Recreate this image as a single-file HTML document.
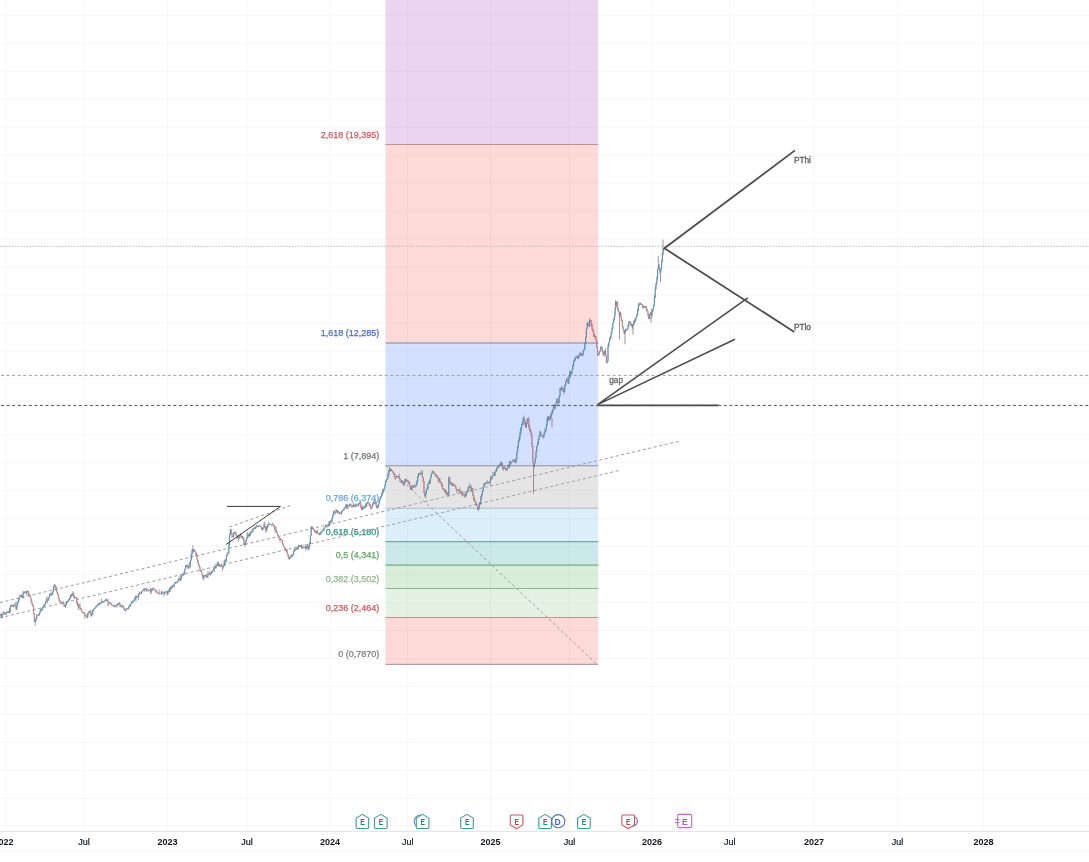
<!DOCTYPE html>
<html><head><meta charset="utf-8"><style>
html,body{margin:0;padding:0;background:#fff;width:1089px;height:862px;overflow:hidden;position:relative}
svg text{font-family:"Liberation Sans",sans-serif}
svg{will-change:transform}
</style></head><body>
<svg width="1089" height="862" viewBox="0 0 1089 862" style="position:absolute;left:0;top:0">
<rect x="0" y="0" width="1089" height="862" fill="#ffffff"/>
<path d="M0,826.40H1089M0,798.43H1089M0,770.46H1089M0,742.49H1089M0,714.52H1089M0,686.55H1089M0,658.58H1089M0,630.61H1089M0,602.64H1089M0,574.67H1089M0,546.70H1089M0,518.73H1089M0,490.76H1089M0,462.79H1089M0,434.82H1089M0,406.85H1089M0,378.88H1089M0,350.91H1089M0,322.94H1089M0,294.97H1089M0,267.00H1089M0,239.03H1089M0,211.06H1089M0,183.09H1089M0,155.12H1089M0,127.15H1089M0,99.18H1089M0,71.21H1089M0,43.24H1089M0,15.27H1089M5.90,0V831M84.10,0V831M167.50,0V831M247.00,0V831M330.10,0V831M407.70,0V831M490.50,0V831M569.40,0V831M652.00,0V831M729.70,0V831M813.90,0V831M897.60,0V831M983.60,0V831" stroke="#f6f6f7" stroke-width="1" fill="none"/>
<rect x="385.5" y="617.53" width="212.7" height="46.87" fill="#fdd9d7"/>
<rect x="385.5" y="588.53" width="212.7" height="29.00" fill="#e3f2e2"/>
<rect x="385.5" y="565.10" width="212.7" height="23.43" fill="#d8eed8"/>
<rect x="385.5" y="541.67" width="212.7" height="23.43" fill="#cae9e8"/>
<rect x="385.5" y="508.30" width="212.7" height="33.36" fill="#ddeefb"/>
<rect x="385.5" y="465.80" width="212.7" height="42.50" fill="#e5e5e6"/>
<rect x="385.5" y="343.07" width="212.7" height="122.73" fill="#d4e0ff"/>
<rect x="385.5" y="144.47" width="212.7" height="198.60" fill="#fdd9d7"/>
<rect x="385.5" y="0.00" width="212.7" height="144.47" fill="#ebd4f0"/>
<line x1="385.5" y1="664.40" x2="598.2" y2="664.40" stroke="#b59ea2" stroke-width="1.1"/>
<text x="379.2" y="657.4" fill="#7c7d84" stroke="#7c7d84" stroke-width="0.25" font-size="9" text-anchor="end">0 (0,7870)</text>
<line x1="385.5" y1="617.53" x2="598.2" y2="617.53" stroke="#c49090" stroke-width="1.1"/>
<text x="379.2" y="610.5" fill="#cc5a62" stroke="#cc5a62" stroke-width="0.25" font-size="9" text-anchor="end">0,236 (2,464)</text>
<line x1="385.5" y1="588.53" x2="598.2" y2="588.53" stroke="#8fb48f" stroke-width="1.1"/>
<text x="379.2" y="581.5" fill="#8cb88c" stroke="#8cb88c" stroke-width="0.25" font-size="9" text-anchor="end">0,382 (3,502)</text>
<line x1="385.5" y1="565.10" x2="598.2" y2="565.10" stroke="#7aa87c" stroke-width="1.1"/>
<text x="379.2" y="558.1" fill="#62a664" stroke="#62a664" stroke-width="0.25" font-size="9" text-anchor="end">0,5 (4,341)</text>
<line x1="385.5" y1="541.67" x2="598.2" y2="541.67" stroke="#6fa8a2" stroke-width="1.1"/>
<text x="379.2" y="534.7" fill="#2c9382" stroke="#2c9382" stroke-width="0.25" font-size="9" text-anchor="end">0,618 (5,180)</text>
<line x1="385.5" y1="508.30" x2="598.2" y2="508.30" stroke="#a8bccc" stroke-width="1.1"/>
<text x="379.2" y="501.3" fill="#68a8e0" stroke="#68a8e0" stroke-width="0.25" font-size="9" text-anchor="end">0,786 (6,374)</text>
<line x1="385.5" y1="465.80" x2="598.2" y2="465.80" stroke="#8e9098" stroke-width="1.1"/>
<text x="379.2" y="458.8" fill="#72757c" stroke="#72757c" stroke-width="0.25" font-size="9" text-anchor="end">1 (7,894)</text>
<line x1="385.5" y1="343.07" x2="598.2" y2="343.07" stroke="#7484b4" stroke-width="1.1"/>
<text x="379.2" y="336.1" fill="#4a6cc4" stroke="#4a6cc4" stroke-width="0.25" font-size="9" text-anchor="end">1,618 (12,285)</text>
<line x1="385.5" y1="144.47" x2="598.2" y2="144.47" stroke="#c0909a" stroke-width="1.1"/>
<text x="379.2" y="137.5" fill="#cc5a62" stroke="#cc5a62" stroke-width="0.25" font-size="9" text-anchor="end">2,618 (19,395)</text>
<path d="M385.5,658.58H598.2M385.5,630.61H598.2M385.5,602.64H598.2M385.5,574.67H598.2M385.5,546.70H598.2M385.5,518.73H598.2M385.5,490.76H598.2M385.5,462.79H598.2M385.5,434.82H598.2M385.5,406.85H598.2M385.5,378.88H598.2M385.5,350.91H598.2M385.5,322.94H598.2M385.5,294.97H598.2M385.5,267.00H598.2M385.5,239.03H598.2M385.5,211.06H598.2M385.5,183.09H598.2M385.5,155.12H598.2M385.5,127.15H598.2M385.5,99.18H598.2M385.5,71.21H598.2M385.5,43.24H598.2M385.5,15.27H598.2M407.70,0V664M490.50,0V664M569.40,0V664" stroke="#000" stroke-opacity="0.03" stroke-width="1" fill="none"/>
<line x1="386" y1="465.5" x2="597" y2="664.4" stroke="#9c9c9c" stroke-width="1" stroke-dasharray="3 2.6"/>
<line x1="0" y1="602.6" x2="680" y2="441" stroke="#9c9c9c" stroke-width="1" stroke-dasharray="3 2.6"/>
<line x1="0" y1="617.8" x2="620" y2="470.2" stroke="#9c9c9c" stroke-width="1" stroke-dasharray="3 2.6"/>
<line x1="229.4" y1="527" x2="292" y2="505" stroke="#9c9c9c" stroke-width="1" stroke-dasharray="3 2.6"/>
<line x1="0" y1="246.3" x2="1089" y2="246.3" stroke="#b8b8b8" stroke-width="1" stroke-dasharray="1.5 1.45"/>
<line x1="0" y1="375.4" x2="1089" y2="375.4" stroke="#a0a0a0" stroke-width="1" stroke-dasharray="3 2.56" stroke-dashoffset="-1"/>
<line x1="0" y1="405.4" x2="1089" y2="405.4" stroke="#505050" stroke-width="1" stroke-dasharray="3 2.56" stroke-dashoffset="-1"/>
<path d="M0.00,615.83V616.25M0.80,613.28V616.29M1.60,613.44V617.51M2.40,613.87V617.80M3.20,610.89V614.74M4.00,612.32V612.98M4.80,612.26V614.98M5.60,613.78V615.01M6.40,612.05V614.51M7.20,611.21V612.44M8.00,611.17V613.03M8.80,610.95V612.97M9.60,607.89V613.90M10.40,605.45V612.09M11.20,604.46V607.03M12.00,604.34V606.11M12.80,604.78V607.26M13.60,605.04V607.56M14.40,603.72V605.92M15.20,601.89V606.44M16.00,605.80V609.86M16.80,601.31V610.32M17.60,602.14V606.31M18.40,599.51V602.74M19.20,596.87V601.39M20.00,594.72V597.38M20.80,594.91V596.38M21.60,593.91V597.97M22.40,595.63V596.91M23.20,590.97V598.77M24.00,591.51V593.15M24.80,591.09V593.41M25.60,592.61V593.22M26.40,590.59V595.48M27.20,590.39V592.21M28.00,590.99V595.10M28.80,591.16V596.32M29.60,594.42V595.56M30.40,595.40V598.34M31.20,598.11V602.09M32.00,601.71V604.54M32.80,603.99V606.46M33.60,605.58V613.89M34.40,613.36V622.26M35.20,619.55V625.85M36.00,617.54V621.33M36.80,614.39V618.42M37.60,614.61V615.33M38.40,614.63V615.50M39.20,613.02V616.03M40.00,609.52V614.12M40.80,608.96V611.48M41.60,608.61V610.73M42.40,607.13V610.80M43.20,605.00V608.83M44.00,604.52V606.96M44.80,603.71V605.76M45.60,601.01V604.37M46.40,597.70V601.84M47.20,596.54V603.47M48.00,599.25V600.91M48.80,596.81V600.35M49.60,593.78V597.60M50.40,593.09V595.51M51.20,592.37V596.09M52.00,592.99V594.89M52.80,590.94V595.02M53.60,585.85V591.76M54.40,583.68V586.47M55.20,584.70V588.29M56.00,586.03V590.39M56.80,587.85V592.67M57.60,592.16V595.05M58.40,594.10V598.88M59.20,597.69V602.20M60.00,600.13V601.93M60.80,601.42V603.39M61.60,602.11V602.84M62.40,602.32V603.55M63.20,600.89V603.94M64.00,602.82V606.54M64.80,605.84V607.09M65.60,604.31V608.01M66.40,601.54V605.48M67.20,601.16V602.78M68.00,599.28V601.62M68.80,599.14V600.95M69.60,597.53V600.14M70.40,594.60V598.70M71.20,594.46V597.44M72.00,593.16V595.78M72.80,591.15V596.05M73.60,592.41V597.48M74.40,594.63V599.35M75.20,597.20V598.23M76.00,597.07V598.16M76.80,596.72V604.72M77.60,601.54V606.66M78.40,603.76V610.14M79.20,604.31V607.61M80.00,603.16V610.00M80.80,607.89V610.29M81.60,609.44V611.50M82.40,611.13V613.11M83.20,612.37V613.11M84.00,612.10V613.91M84.80,612.45V618.66M85.60,615.17V615.91M86.40,615.59V617.13M87.20,613.01V618.54M88.00,612.96V617.46M88.80,610.87V613.19M89.60,610.90V612.93M90.40,609.93V615.19M91.20,614.21V617.19M92.00,610.25V615.99M92.80,609.54V614.39M93.60,608.88V610.94M94.40,608.35V609.16M95.20,607.26V608.79M96.00,605.10V607.77M96.80,605.26V606.76M97.60,604.10V605.45M98.40,603.64V605.22M99.20,601.74V605.14M100.00,603.04V604.81M100.80,602.25V604.18M101.60,598.35V603.07M102.40,600.88V603.00M103.20,601.29V602.15M104.00,600.98V602.89M104.80,600.12V601.12M105.60,598.16V601.28M106.40,599.44V600.32M107.20,599.54V602.05M108.00,598.58V605.70M108.80,602.21V605.98M109.60,602.27V602.95M110.40,602.09V604.25M111.20,602.99V604.82M112.00,604.73V606.17M112.80,605.39V606.04M113.60,604.62V606.35M114.40,604.71V607.44M115.20,605.63V606.66M116.00,605.53V607.23M116.80,604.55V607.30M117.60,603.09V605.79M118.40,603.28V604.64M119.20,601.79V605.10M120.00,602.84V607.47M120.80,604.40V607.06M121.60,606.32V607.23M122.40,604.51V607.18M123.20,605.25V608.28M124.00,607.25V610.21M124.80,608.14V610.98M125.60,609.99V611.49M126.40,608.49V610.33M127.20,608.17V609.78M128.00,607.68V608.81M128.80,605.72V609.60M129.60,604.81V606.83M130.40,603.90V606.96M131.20,602.36V604.17M132.00,601.09V604.12M132.80,600.34V601.68M133.60,600.43V601.92M134.40,597.58V601.20M135.20,596.06V599.61M136.00,594.85V601.63M136.80,596.11V596.74M137.60,596.32V598.05M138.40,594.18V600.01M139.20,591.35V595.48M140.00,591.80V593.42M140.80,592.58V593.45M141.60,591.17V593.97M142.40,590.75V592.16M143.20,588.44V590.88M144.00,588.42V590.21M144.80,588.11V592.16M145.60,588.15V589.69M146.40,587.77V591.17M147.20,590.48V591.23M148.00,588.82V591.49M148.80,589.87V590.72M149.60,589.91V590.55M150.40,588.16V593.34M151.20,588.74V594.38M152.00,587.92V590.99M152.80,587.74V590.32M153.60,587.98V588.72M154.40,588.55V590.50M155.20,589.61V591.16M156.00,589.68V592.72M156.80,591.03V593.27M157.60,592.66V593.21M158.40,592.38V593.62M159.20,589.39V594.24M160.00,593.31V593.78M160.80,593.11V593.75M161.60,590.98V595.16M162.40,591.26V592.94M163.20,592.04V594.11M164.00,593.13V596.83M164.80,591.19V594.32M165.60,591.53V592.10M166.40,591.29V592.64M167.20,590.41V595.55M168.00,590.86V594.81M168.80,589.47V591.69M169.60,587.88V592.41M170.40,586.59V592.02M171.20,586.65V588.95M172.00,585.13V589.31M172.80,585.22V587.65M173.60,584.55V586.38M174.40,583.38V587.54M175.20,581.93V583.75M176.00,581.35V583.51M176.80,582.37V583.14M177.60,580.56V582.70M178.40,578.90V581.32M179.20,576.00V579.84M180.00,578.29V580.43M180.80,575.10V581.28M181.60,575.68V578.63M182.40,574.55V575.97M183.20,572.43V575.27M184.00,572.46V575.25M184.80,568.86V574.27M185.60,564.85V569.26M186.40,565.14V567.03M187.20,565.25V567.62M188.00,563.61V568.83M188.80,565.87V568.70M189.60,562.32V566.24M190.40,560.16V568.28M191.20,554.32V560.44M192.00,548.88V556.30M192.80,545.09V553.35M193.60,548.91V552.03M194.40,549.53V551.86M195.20,550.46V552.63M196.00,552.27V556.01M196.80,552.91V559.25M197.60,558.93V562.47M198.40,560.52V565.16M199.20,564.07V567.51M200.00,566.90V571.00M200.80,570.57V571.99M201.60,570.20V573.76M202.40,573.67V578.33M203.20,574.82V579.54M204.00,575.27V580.33M204.80,574.92V576.69M205.60,574.90V576.15M206.40,573.91V578.07M207.20,575.69V577.41M208.00,570.78V578.48M208.80,573.35V574.23M209.60,571.36V574.48M210.40,572.43V575.85M211.20,571.36V573.99M212.00,570.71V573.58M212.80,569.80V572.37M213.60,568.50V570.03M214.40,567.45V572.09M215.20,563.84V568.39M216.00,566.15V568.73M216.80,563.82V566.48M217.60,562.19V565.36M218.40,561.37V565.99M219.20,563.35V566.20M220.00,565.47V567.20M220.80,564.79V566.24M221.60,563.10V566.89M222.40,565.66V571.24M223.20,565.93V568.72M224.00,560.26V566.26M224.80,559.71V565.91M225.60,559.28V561.56M226.40,555.52V562.56M227.20,551.73V556.12M228.00,552.79V554.39M228.80,542.71V553.43M229.60,533.65V545.55M230.40,529.39V534.72M231.20,528.70V533.83M232.00,532.87V537.42M232.80,536.36V537.40M233.60,532.19V537.26M234.40,532.10V534.07M235.20,531.28V533.66M236.00,532.50V535.70M236.80,534.90V539.07M237.60,535.57V537.81M238.40,535.61V541.80M239.20,536.19V538.97M240.00,534.60V538.47M240.80,533.06V536.33M241.60,535.31V537.74M242.40,535.98V538.50M243.20,536.61V539.76M244.00,538.26V545.08M244.80,542.96V547.27M245.60,540.62V545.09M246.40,538.39V541.35M247.20,532.43V539.18M248.00,532.48V536.21M248.80,533.95V537.71M249.60,533.00V536.37M250.40,531.35V535.98M251.20,531.19V533.49M252.00,530.41V531.53M252.80,528.23V532.89M253.60,527.77V530.67M254.40,526.49V528.62M255.20,527.19V529.02M256.00,525.73V528.70M256.80,524.78V526.75M257.60,525.72V526.97M258.40,525.86V527.40M259.20,524.98V526.28M260.00,525.37V525.66M260.80,525.38V527.48M261.60,526.92V530.18M262.40,527.72V530.62M263.20,527.33V529.54M264.00,522.64V527.51M264.80,521.35V528.65M265.60,527.27V532.79M266.40,525.96V531.41M267.20,525.14V531.19M268.00,523.89V527.81M268.80,521.61V524.57M269.60,523.51V524.75M270.40,523.91V524.81M271.20,524.08V524.57M272.00,524.10V526.91M272.80,522.23V524.86M273.60,524.59V526.08M274.40,525.00V529.34M275.20,526.71V532.18M276.00,526.26V532.53M276.80,530.20V533.34M277.60,532.29V535.89M278.40,534.96V537.37M279.20,537.15V540.19M280.00,537.73V542.62M280.80,537.91V540.05M281.60,539.68V540.42M282.40,539.77V543.68M283.20,542.90V545.90M284.00,545.65V547.50M284.80,547.40V549.15M285.60,547.97V550.73M286.40,549.05V552.12M287.20,549.06V553.98M288.00,553.64V557.13M288.80,554.85V559.38M289.60,557.41V559.85M290.40,556.23V558.35M291.20,553.82V557.81M292.00,554.19V556.35M292.80,554.39V556.54M293.60,550.32V554.87M294.40,547.88V551.82M295.20,548.66V551.06M296.00,548.00V549.89M296.80,548.09V549.76M297.60,546.69V549.54M298.40,544.47V549.29M299.20,544.81V546.69M300.00,545.20V546.27M300.80,544.93V547.40M301.60,544.48V549.00M302.40,546.81V548.40M303.20,546.87V548.00M304.00,544.18V547.94M304.80,547.18V548.33M305.60,545.99V550.66M306.40,546.07V549.12M307.20,545.18V548.57M308.00,544.36V550.05M308.80,546.61V550.71M309.60,541.84V547.70M310.40,535.03V543.93M311.20,525.97V535.86M312.00,526.70V528.84M312.80,526.43V529.21M313.60,528.80V529.73M314.40,528.79V532.44M315.20,531.30V532.79M316.00,529.83V533.53M316.80,531.30V533.93M317.60,529.51V533.66M318.40,533.45V534.05M319.20,532.51V535.38M320.00,532.74V534.78M320.80,531.69V534.91M321.60,531.44V532.46M322.40,530.49V532.26M323.20,529.01V531.10M324.00,527.42V531.14M324.80,526.86V528.53M325.60,524.37V527.27M326.40,524.74V525.93M327.20,525.35V527.78M328.00,526.12V526.44M328.80,521.30V526.12M329.60,521.56V526.17M330.40,520.26V522.55M331.20,520.61V523.75M332.00,517.81V522.24M332.80,514.51V518.94M333.60,510.32V515.69M334.40,510.83V513.09M335.20,512.01V514.68M336.00,508.59V512.49M336.80,510.04V512.65M337.60,509.88V513.64M338.40,511.14V513.20M339.20,511.26V514.28M340.00,512.74V513.49M340.80,512.12V514.37M341.60,510.78V514.48M342.40,509.94V511.86M343.20,509.24V510.25M344.00,507.56V511.16M344.80,507.18V508.90M345.60,504.80V507.49M346.40,504.14V508.79M347.20,504.23V508.75M348.00,505.37V509.70M348.80,504.80V506.74M349.60,503.48V506.33M350.40,503.95V505.00M351.20,503.56V507.59M352.00,505.62V507.38M352.80,504.68V507.28M353.60,503.36V506.69M354.40,504.82V506.67M355.20,503.66V507.98M356.00,503.73V506.59M356.80,503.94V506.06M357.60,504.63V505.69M358.40,502.98V506.72M359.20,502.81V504.84M360.00,502.19V503.96M360.80,501.09V507.96M361.60,506.42V510.22M362.40,505.15V509.81M363.20,506.94V509.83M364.00,506.43V507.74M364.80,505.65V508.78M365.60,503.52V507.94M366.40,502.82V507.09M367.20,501.52V503.75M368.00,502.03V506.31M368.80,502.10V503.18M369.60,502.88V505.80M370.40,504.24V508.58M371.20,507.96V509.48M372.00,504.74V508.48M372.80,502.89V505.63M373.60,500.80V504.83M374.40,501.58V503.81M375.20,500.06V503.46M376.00,501.51V506.44M376.80,504.60V508.84M377.60,505.52V508.51M378.40,504.23V507.56M379.20,499.90V504.69M380.00,497.07V500.69M380.80,496.19V498.81M381.60,493.07V497.48M382.40,489.35V495.71M383.20,488.52V493.86M384.00,488.63V491.71M384.80,484.45V488.78M385.60,480.78V484.72M386.40,479.38V481.98M387.20,478.08V479.67M388.00,473.08V478.63M388.80,469.83V475.86M389.60,466.77V472.07M390.40,468.60V470.92M391.20,468.64V471.07M392.00,469.82V471.54M392.80,471.13V473.03M393.60,471.86V474.86M394.40,474.10V477.62M395.20,476.92V479.75M396.00,476.06V479.09M396.80,475.78V477.30M397.60,475.87V477.11M398.40,475.91V476.90M399.20,473.64V478.79M400.00,477.78V481.84M400.80,481.22V482.69M401.60,480.50V483.33M402.40,480.29V482.74M403.20,481.86V485.24M404.00,482.59V486.31M404.80,479.16V483.78M405.60,479.04V481.38M406.40,478.37V481.86M407.20,480.10V481.23M408.00,480.00V483.19M408.80,480.66V484.20M409.60,482.21V485.93M410.40,485.42V489.55M411.20,486.29V490.09M412.00,486.37V489.55M412.80,484.67V488.04M413.60,485.52V487.35M414.40,485.07V486.55M415.20,486.29V487.80M416.00,483.93V486.73M416.80,480.44V485.63M417.60,476.17V482.32M418.40,473.01V477.42M419.20,473.46V474.82M420.00,472.91V475.56M420.80,470.68V473.56M421.60,472.50V474.46M422.40,470.09V477.86M423.20,477.18V482.30M424.00,481.22V493.13M424.80,492.08V496.56M425.60,492.73V498.28M426.40,489.56V493.95M427.20,487.28V489.76M428.00,482.96V489.60M428.80,481.80V484.37M429.60,479.74V483.53M430.40,477.65V483.85M431.20,474.09V477.93M432.00,471.07V474.17M432.80,470.39V472.76M433.60,470.97V473.15M434.40,472.33V473.99M435.20,473.33V476.39M436.00,474.02V476.65M436.80,475.31V477.87M437.60,475.10V478.86M438.40,478.05V482.44M439.20,477.57V481.68M440.00,477.91V483.40M440.80,481.47V483.39M441.60,482.46V486.65M442.40,483.57V489.46M443.20,487.98V489.28M444.00,488.21V491.12M444.80,489.56V492.67M445.60,489.24V493.70M446.40,491.23V495.32M447.20,491.63V495.06M448.00,493.24V496.12M448.80,476.40V496.38M449.60,476.81V482.50M450.40,481.27V484.14M451.20,482.46V485.19M452.00,482.50V485.97M452.80,483.20V486.33M453.60,483.62V485.69M454.40,484.92V485.82M455.20,484.54V487.22M456.00,486.35V489.64M456.80,488.95V493.22M457.60,489.12V490.36M458.40,489.31V491.42M459.20,489.94V491.30M460.00,487.28V493.47M460.80,490.91V492.46M461.60,491.69V495.41M462.40,491.24V496.66M463.20,493.65V494.68M464.00,494.40V495.76M464.80,493.87V497.53M465.60,493.31V497.04M466.40,491.94V495.59M467.20,490.53V493.14M468.00,486.29V491.79M468.80,486.74V489.26M469.60,483.28V488.08M470.40,486.73V488.24M471.20,484.88V490.92M472.00,487.90V492.83M472.80,487.92V495.93M473.60,494.61V500.28M474.40,497.43V501.09M475.20,500.19V502.91M476.00,502.43V504.61M476.80,503.77V506.04M477.60,505.89V509.89M478.40,507.51V511.11M479.20,502.15V509.36M480.00,502.81V505.13M480.80,495.80V504.61M481.60,494.22V498.55M482.40,490.57V495.65M483.20,486.44V491.21M484.00,482.99V486.80M484.80,483.06V484.19M485.60,482.11V484.98M486.40,482.23V483.13M487.20,479.94V482.63M488.00,481.99V484.70M488.80,481.81V483.25M489.60,481.34V482.22M490.40,476.11V485.60M491.20,477.87V480.42M492.00,475.78V479.13M492.80,471.79V475.85M493.60,474.87V475.91M494.40,471.93V476.45M495.20,471.37V475.73M496.00,469.38V472.02M496.80,467.00V471.26M497.60,466.73V468.40M498.40,465.90V467.09M499.20,464.46V467.62M500.00,463.97V465.52M500.80,461.07V465.23M501.60,462.21V466.02M502.40,462.87V468.83M503.20,467.01V470.95M504.00,466.44V469.06M504.80,466.49V468.70M505.60,467.68V470.44M506.40,468.96V470.21M507.20,468.19V470.81M508.00,464.79V468.65M508.80,464.49V467.85M509.60,460.60V467.70M510.40,461.00V463.14M511.20,461.63V464.73M512.00,461.46V461.75M512.80,459.50V461.68M513.60,459.26V461.22M514.40,459.51V461.98M515.20,460.11V462.93M516.00,457.94V462.87M516.80,451.51V459.71M517.60,445.85V452.59M518.40,440.33V447.74M519.20,436.41V442.37M520.00,431.11V439.67M520.80,427.40V434.34M521.60,424.09V430.44M522.40,421.50V424.79M523.20,417.21V425.45M524.00,415.53V420.93M524.80,419.36V424.82M525.60,421.71V427.57M526.40,422.86V427.72M527.20,418.38V424.27M528.00,418.39V418.58M528.80,417.06V428.65M529.60,424.67V430.99M530.40,429.02V432.38M531.20,430.43V436.23M532.00,433.62V447.06M532.80,445.52V463.33M533.60,462.52V467.07M534.40,462.98V467.55M535.20,457.49V463.38M536.00,450.85V458.28M536.80,445.76V451.85M537.60,442.38V446.14M538.40,438.56V444.33M539.20,435.11V440.21M540.00,430.78V436.43M540.80,431.04V436.07M541.60,435.23V435.73M542.40,435.05V437.37M543.20,436.19V438.75M544.00,432.69V437.58M544.80,428.14V433.74M545.60,430.15V432.14M546.40,424.18V430.36M547.20,417.70V425.90M548.00,415.98V421.11M548.80,416.06V420.28M549.60,417.65V420.77M550.40,415.15V419.32M551.20,412.76V417.98M552.00,410.31V415.10M552.80,409.24V413.53M553.60,405.74V410.15M554.40,404.08V408.40M555.20,404.65V409.49M556.00,402.36V406.57M556.80,398.21V403.10M557.60,398.63V403.25M558.40,401.36V404.52M559.20,395.44V402.93M560.00,388.30V396.74M560.80,387.92V390.71M561.60,385.81V389.64M562.40,387.27V390.33M563.20,389.82V391.97M564.00,387.68V394.21M564.80,384.51V392.30M565.60,381.17V386.25M566.40,379.08V382.64M567.20,376.82V380.87M568.00,379.76V383.74M568.80,376.29V384.09M569.60,370.74V377.63M570.40,371.49V377.74M571.20,371.42V373.89M572.00,369.37V375.55M572.80,364.55V369.82M573.60,360.41V366.75M574.40,358.20V361.96M575.20,357.66V360.82M576.00,356.00V358.15M576.80,355.35V357.42M577.60,356.12V358.71M578.40,355.49V359.01M579.20,354.42V357.21M580.00,352.26V355.41M580.80,352.43V355.46M581.60,353.80V356.29M582.40,353.52V356.08M583.20,350.45V355.57M584.00,349.22V350.77M584.80,342.57V350.17M585.60,336.89V344.14M586.40,328.43V338.08M587.20,322.90V329.06M588.00,320.96V325.82M588.80,324.50V326.68M589.60,318.16V327.03M590.40,319.56V321.02M591.20,320.04V326.20M592.00,323.45V330.61M592.80,328.22V331.76M593.60,330.31V336.86M594.40,333.73V336.86M595.20,335.38V339.27M596.00,335.98V340.76M596.80,340.11V347.68M597.60,347.19V355.86M598.40,354.05V355.56M599.20,351.66V354.85M600.00,350.27V351.97M600.80,346.34V350.91M601.60,345.66V348.88M602.40,347.41V352.38M603.20,350.67V355.29M604.00,351.82V356.63M604.80,350.35V354.61M605.60,347.88V356.21M606.40,355.37V362.71M607.20,360.76V363.59M608.00,344.22V361.68M608.80,341.95V347.13M609.60,337.43V342.32M610.40,336.19V339.57M611.20,332.31V337.86M612.00,327.05V333.19M612.80,322.95V329.10M613.60,318.91V323.23M614.40,315.09V320.51M615.20,307.03V315.83M616.00,301.75V308.23M616.80,301.40V305.43M617.60,301.34V310.28M618.40,308.22V311.94M619.20,310.93V314.99M620.00,312.26V315.68M620.80,311.54V317.82M621.60,317.24V321.28M622.40,319.98V327.15M623.20,325.99V330.24M624.00,329.76V333.73M624.80,330.56V334.21M625.60,328.06V331.65M626.40,329.44V330.72M627.20,328.80V330.21M628.00,324.17V329.49M628.80,320.96V326.36M629.60,321.30V322.80M630.40,321.34V325.39M631.20,323.09V326.16M632.00,323.85V327.96M632.80,324.59V329.00M633.60,320.68V325.74M634.40,319.50V323.96M635.20,318.50V322.17M636.00,316.63V320.92M636.80,313.68V317.31M637.60,308.69V315.24M638.40,302.72V311.08M639.20,304.35V305.91M640.00,302.49V304.81M640.80,302.83V305.06M641.60,303.71V304.97M642.40,304.19V307.99M643.20,305.19V308.79M644.00,305.90V307.21M644.80,305.93V308.29M645.60,306.02V307.96M646.40,305.83V310.60M647.20,308.69V311.54M648.00,311.08V316.36M648.80,314.98V319.24M649.60,313.78V319.28M650.40,312.63V314.20M651.20,308.80V315.70M652.00,310.35V317.98M652.80,308.71V312.09M653.60,304.82V309.52M654.40,295.12V305.94M655.20,286.66V298.34M656.00,282.92V289.26M656.80,276.79V284.82M657.60,268.89V279.05M658.40,263.23V269.24M659.20,263.99V270.00M660.00,268.59V273.87M660.80,268.53V273.02M661.60,259.53V269.19M662.40,252.52V262.03M663.20,248.77V255.39M664.00,247.91V250.49" stroke="#434752" stroke-width="0.65" fill="none" stroke-opacity="0.75"/>
<path d="M0.00,615.90V616.70M2.40,614.33V615.13M4.80,612.44V614.20M5.60,614.20V615.00M8.00,611.72V612.71M12.00,604.95V606.08M12.80,606.08V606.88M15.20,604.50V605.86M16.00,605.86V608.77M20.80,594.98V595.85M21.60,595.85V596.65M24.80,591.69V592.61M25.60,592.61V593.41M28.00,591.04V593.03M28.80,593.03V594.88M29.60,594.88V595.68M30.40,595.46V598.27M31.20,598.27V601.71M32.00,601.71V604.40M32.80,604.40V606.44M33.60,606.44V613.75M34.40,613.75V621.85M37.60,614.76V615.56M38.40,615.31V616.11M47.20,600.52V601.32M51.20,594.54V595.34M55.20,584.84V586.17M56.00,586.17V588.82M56.80,588.82V592.28M57.60,592.28V595.04M58.40,595.04V598.20M59.20,598.20V600.35M60.00,600.35V601.67M60.80,601.67V602.60M61.60,602.60V603.40M62.40,602.71V603.51M63.20,603.00V603.80M64.00,603.44V605.86M64.80,605.86V606.66M72.80,593.70V594.97M73.60,594.97V597.21M74.40,597.21V598.01M76.00,597.32V598.12M76.80,598.09V602.67M77.60,602.67V605.69M78.40,605.69V607.05M79.20,607.05V607.85M80.00,607.16V608.40M80.80,608.40V609.63M81.60,609.63V611.15M82.40,611.15V612.38M83.20,612.38V613.18M84.00,612.74V613.85M84.80,613.85V615.45M85.60,615.45V616.25M86.40,615.87V617.00M89.60,611.95V612.75M90.40,612.43V614.29M91.20,614.29V615.44M98.40,604.36V605.16M102.40,601.98V602.78M107.20,599.69V601.52M108.00,601.52V602.46M108.80,602.46V603.26M110.40,602.66V603.62M111.20,603.62V604.81M112.00,604.81V605.71M113.60,605.41V606.21M114.40,605.67V606.47M119.20,603.41V604.21M120.00,603.63V605.46M120.80,605.46V606.83M123.20,606.14V607.25M124.00,607.25V608.77M124.80,608.77V610.29M136.80,596.39V597.19M137.60,596.53V597.33M140.00,592.89V593.69M140.80,593.18V593.98M146.40,588.57V590.77M147.20,590.77V591.57M150.40,590.10V591.84M153.60,588.28V589.08M154.40,588.67V589.92M155.20,589.92V590.72M156.00,589.95V591.76M156.80,591.76V592.82M157.60,592.82V593.62M158.40,593.00V593.80M159.20,593.39V594.19M162.40,591.74V592.54M163.20,592.46V593.74M166.40,591.75V592.55M167.20,592.11V593.69M170.40,588.33V589.13M172.80,586.16V586.96M176.00,582.26V583.06M176.80,582.43V583.23M180.00,578.87V580.19M187.20,565.48V566.34M188.00,566.34V568.21M193.60,549.09V549.89M194.40,549.56V550.88M195.20,550.88V552.27M196.00,552.27V555.71M196.80,555.71V559.14M197.60,559.14V562.08M198.40,562.08V564.65M199.20,564.65V567.09M200.00,567.09V570.59M200.80,570.59V571.51M201.60,571.51V573.72M202.40,573.72V576.06M203.20,576.06V577.48M205.60,575.19V576.15M206.40,576.15V577.17M208.80,573.61V574.41M209.60,573.73V574.53M215.20,567.80V568.60M218.40,563.06V565.00M219.20,565.00V565.89M220.00,565.89V566.69M221.60,565.04V566.12M222.40,566.12V567.24M231.20,529.53V532.88M232.00,532.88V537.06M235.20,532.19V533.57M236.00,533.57V535.23M236.80,535.23V536.32M237.60,536.32V537.41M238.40,537.41V538.21M240.80,534.61V535.86M241.60,535.86V537.58M243.20,536.70V538.89M244.00,538.89V544.94M248.80,534.83V536.14M257.60,525.74V526.54M260.80,525.47V526.95M261.60,526.95V529.27M264.80,525.35V527.46M265.60,527.46V529.18M269.60,523.65V524.45M270.40,524.12V524.92M272.80,524.26V525.06M273.60,524.70V525.50M274.40,525.40V527.49M275.20,527.49V530.26M276.00,530.26V531.63M276.80,531.63V533.06M277.60,533.06V535.48M278.40,535.48V537.19M279.20,537.19V538.65M280.00,538.65V539.45M280.80,538.89V539.71M281.60,539.71V540.51M282.40,540.28V543.03M283.20,543.03V545.67M284.00,545.67V547.50M284.80,547.50V548.76M285.60,548.76V549.93M286.40,549.93V551.54M287.20,551.54V553.73M288.00,553.73V556.22M288.80,556.22V558.92M296.00,549.51V550.31M300.80,545.30V546.16M301.60,546.16V547.89M303.20,547.53V548.33M304.80,547.20V548.06M308.00,545.42V549.06M312.00,526.84V528.81M312.80,528.81V529.61M313.60,528.83V529.69M314.40,529.69V531.37M315.20,531.37V532.17M316.80,531.37V532.17M317.60,532.11V533.56M318.40,533.56V534.36M319.20,534.02V534.82M321.60,531.79V532.59M327.20,525.44V526.24M331.20,520.88V521.68M334.40,511.72V512.69M337.60,510.31V511.70M338.40,511.70V512.52M339.20,512.52V513.34M340.80,513.10V513.90M347.20,504.33V505.80M348.00,505.80V506.60M348.80,505.99V506.79M350.40,504.39V505.19M351.20,504.97V506.52M352.00,506.52V507.32M353.60,505.51V506.31M356.00,504.81V505.61M356.80,504.86V505.66M357.60,505.52V506.32M360.00,503.07V503.87M360.80,503.49V507.78M361.60,507.78V509.78M364.00,507.09V507.89M368.80,502.15V502.95M369.60,502.89V505.32M370.40,505.32V508.19M371.20,508.19V508.99M374.40,502.15V503.06M376.00,503.05V504.91M376.80,504.91V508.12M390.40,468.79V469.86M391.20,469.86V470.66M392.00,470.55V471.35M392.80,471.26V472.42M393.60,472.42V474.72M394.40,474.72V476.92M395.20,476.92V478.10M398.40,475.94V476.74M399.20,476.05V478.43M400.00,478.43V481.25M400.80,481.25V482.05M402.40,480.87V482.07M403.20,482.07V484.73M406.40,479.33V480.44M407.20,480.44V481.24M408.00,480.91V481.81M408.80,481.81V482.61M409.60,482.25V485.61M410.40,485.61V487.26M411.20,487.26V488.69M413.60,485.74V486.54M414.40,486.36V487.16M419.20,473.51V474.31M421.60,472.94V473.74M422.40,473.65V477.28M423.20,477.28V481.37M424.00,481.37V493.12M424.80,493.12V496.44M433.60,471.57V473.10M434.40,473.10V473.90M435.20,473.47V474.95M436.00,474.95V475.75M436.80,475.75V476.55M437.60,476.48V478.11M438.40,478.11V479.15M439.20,479.15V481.32M440.00,481.32V482.12M440.80,481.80V482.88M441.60,482.88V485.61M442.40,485.61V487.98M443.20,487.98V489.01M444.00,489.01V489.81M444.80,489.59V491.06M445.60,491.06V492.94M446.40,492.94V493.83M447.20,493.83V494.68M449.60,477.65V481.48M450.40,481.48V483.88M451.20,483.88V484.68M452.80,483.98V484.78M453.60,484.28V485.11M454.40,485.11V485.91M455.20,485.62V486.82M456.00,486.82V488.99M456.80,488.99V489.79M457.60,489.22V490.02M458.40,489.46V490.60M459.20,490.60V491.40M460.00,491.28V492.08M460.80,491.66V492.46M461.60,492.19V492.99M462.40,492.77V493.68M463.20,493.68V494.48M464.00,494.48V495.71M464.80,495.71V496.98M469.60,487.28V488.08M471.20,487.00V489.29M472.00,489.29V491.72M472.80,491.72V495.87M473.60,495.87V497.75M474.40,497.75V500.29M475.20,500.29V502.55M476.00,502.55V504.01M476.80,504.01V505.90M477.60,505.90V508.75M486.40,482.40V483.20M488.00,482.05V482.85M493.60,475.25V476.05M501.60,462.26V464.53M502.40,464.53V467.03M503.20,467.03V468.78M505.60,468.09V469.62M506.40,469.62V470.42M512.00,461.65V462.45M514.40,460.34V461.20M515.20,461.20V462.83M524.00,417.73V419.41M524.80,419.41V424.16M525.60,424.16V427.31M528.80,418.41V426.16M529.60,426.16V429.05M530.40,429.05V431.45M531.20,431.45V435.94M532.00,435.94V446.18M532.80,446.18V462.82M533.60,462.82V466.74M540.80,431.89V435.50M542.40,435.48V436.58M543.20,436.58V437.38M548.80,416.21V419.91M554.40,407.04V407.84M557.60,399.36V402.82M562.40,387.48V389.83M563.20,389.83V391.93M567.20,379.48V380.28M568.00,379.85V383.32M576.80,356.19V357.03M577.60,357.03V358.68M580.80,353.05V354.74M581.60,354.74V355.61M588.00,323.07V325.04M588.80,325.04V326.24M591.20,320.08V323.79M592.00,323.79V328.54M592.80,328.54V330.93M593.60,330.93V334.17M594.40,334.17V335.72M595.20,335.72V337.40M596.00,337.40V340.51M596.80,340.51V347.50M597.60,347.50V355.12M601.60,346.64V348.51M602.40,348.51V352.30M603.20,352.30V355.16M605.60,350.74V356.00M606.40,356.00V362.48M616.80,301.87V303.27M617.60,303.27V308.51M618.40,308.51V311.91M619.20,311.91V314.60M620.80,313.23V317.43M621.60,317.43V321.17M622.40,321.17V326.03M623.20,326.03V330.08M624.00,330.08V333.30M626.40,329.70V330.50M630.40,321.55V323.17M631.20,323.17V325.09M632.00,325.09V326.37M640.80,302.96V303.96M641.60,303.96V304.76M642.40,304.72V305.52M643.20,305.52V306.84M644.80,306.65V307.45M645.60,307.01V307.81M646.40,307.13V309.00M647.20,309.00V311.14M648.00,311.14V316.06M648.80,316.06V318.71M651.20,312.80V314.45M659.20,265.58V268.78M660.00,268.78V272.30" stroke="#d8707e" stroke-width="1.1" fill="none" stroke-opacity="0.75"/>
<path d="M0.80,614.86V616.17M1.60,614.33V615.13M3.20,612.65V614.43M4.00,612.44V613.24M6.40,612.10V614.30M7.20,611.72V612.52M8.80,612.03V612.83M9.60,608.56V612.03M10.40,605.75V608.56M11.20,604.95V605.75M13.60,605.38V606.49M14.40,604.50V605.38M16.80,605.31V608.77M17.60,602.58V605.31M18.40,600.07V602.58M19.20,596.93V600.07M20.00,594.98V596.93M22.40,595.93V596.73M23.20,592.91V595.93M24.00,591.69V592.91M26.40,591.34V592.73M27.20,591.04V591.84M35.20,621.25V622.05M36.00,618.14V621.25M36.80,614.76V618.14M39.20,613.04V615.36M40.00,611.31V613.04M40.80,609.37V611.31M41.60,609.30V610.10M42.40,607.36V609.30M43.20,606.73V607.53M44.00,605.73V606.73M44.80,604.10V605.73M45.60,601.31V604.10M46.40,600.52V601.32M48.00,599.47V600.68M48.80,597.02V599.47M49.60,595.43V597.02M50.40,594.54V595.43M52.00,593.57V594.72M52.80,591.30V593.57M53.60,586.30V591.30M54.40,584.84V586.30M65.60,604.32V606.57M66.40,602.12V604.32M67.20,601.52V602.32M68.00,600.66V601.52M68.80,599.40V600.66M69.60,598.17V599.40M70.40,596.79V598.17M71.20,595.09V596.79M72.00,593.70V595.09M75.20,597.32V598.12M87.20,615.19V617.00M88.00,613.11V615.19M88.80,611.95V613.11M92.00,612.04V615.44M92.80,610.27V612.04M93.60,609.00V610.27M94.40,608.45V609.25M95.20,607.46V608.45M96.00,606.38V607.46M96.80,605.43V606.38M97.60,604.36V605.43M99.20,604.20V605.03M100.00,603.54V604.34M100.80,602.70V603.54M101.60,601.98V602.78M103.20,601.67V602.47M104.00,601.05V601.85M104.80,600.28V601.08M105.60,600.00V600.80M106.40,599.69V600.49M109.60,602.66V603.46M112.80,605.41V606.21M115.20,606.08V606.88M116.00,605.67V606.47M116.80,604.59V605.67M117.60,603.98V604.78M118.40,603.41V604.21M121.60,606.45V607.25M122.40,606.14V606.94M125.60,610.05V610.85M126.40,608.56V610.05M127.20,608.38V609.18M128.00,608.29V609.09M128.80,606.75V608.29M129.60,605.73V606.75M130.40,604.16V605.73M131.20,603.11V604.16M132.00,601.37V603.11M132.80,601.35V602.15M133.60,601.00V601.80M134.40,599.60V601.00M135.20,598.53V599.60M136.00,596.39V598.53M138.40,594.84V597.27M139.20,592.89V594.84M141.60,591.78V593.43M142.40,590.88V591.78M143.20,590.09V590.89M144.00,590.07V590.87M144.80,589.24V590.07M145.60,588.57V589.37M148.00,590.44V591.24M148.80,590.13V590.93M149.60,590.10V590.90M151.20,590.94V591.84M152.00,589.06V590.94M152.80,588.28V589.08M160.00,593.50V594.30M160.80,593.20V594.00M161.60,591.74V593.20M164.00,593.43V594.23M164.80,591.82V593.43M165.60,591.75V592.55M168.00,590.89V593.69M168.80,590.05V590.89M169.60,588.33V590.05M171.20,586.75V588.80M172.00,586.16V586.96M173.60,585.27V586.34M174.40,583.62V585.27M175.20,582.26V583.62M177.60,581.00V582.47M178.40,578.91V581.00M179.20,578.87V579.67M180.80,578.01V580.19M181.60,575.70V578.01M182.40,575.04V575.84M183.20,574.76V575.56M184.00,572.83V574.76M184.80,569.06V572.83M185.60,565.48V569.06M186.40,565.48V566.28M188.80,566.10V568.21M189.60,564.99V566.10M190.40,560.38V564.99M191.20,554.36V560.38M192.00,550.93V554.36M192.80,549.09V550.93M204.00,575.56V577.48M204.80,575.19V575.99M207.20,575.71V577.17M208.00,573.61V575.71M210.40,573.63V574.43M211.20,572.21V573.63M212.00,571.11V572.21M212.80,570.00V571.11M213.60,568.56V570.00M214.40,567.80V568.60M216.00,566.24V568.11M216.80,564.35V566.24M217.60,563.06V564.35M220.80,565.04V565.99M223.20,566.16V567.24M224.00,564.26V566.16M224.80,561.25V564.26M225.60,559.31V561.25M226.40,555.71V559.31M227.20,554.12V555.71M228.00,553.33V554.13M228.80,545.33V553.33M229.60,534.52V545.33M230.40,529.53V534.52M232.80,536.55V537.35M233.60,533.62V536.55M234.40,532.19V533.62M239.20,536.39V537.80M240.00,534.61V536.39M242.40,536.70V537.58M244.80,543.62V544.94M245.60,541.23V543.62M246.40,538.59V541.23M247.20,535.77V538.59M248.00,534.83V535.77M249.60,534.39V536.14M250.40,533.03V534.39M251.20,531.42V533.03M252.00,530.84V531.64M252.80,529.39V530.84M253.60,528.51V529.39M254.40,528.13V528.93M255.20,527.91V528.71M256.00,526.22V527.91M256.80,525.74V526.54M258.40,526.10V526.90M259.20,525.54V526.34M260.00,525.47V526.27M262.40,528.91V529.71M263.20,527.38V528.91M264.00,525.35V527.38M266.40,528.79V529.59M267.20,526.54V528.79M268.00,524.28V526.54M268.80,523.65V524.45M271.20,524.43V525.23M272.00,524.26V525.06M289.60,557.42V558.92M290.40,556.61V557.42M291.20,556.31V557.11M292.00,556.29V557.09M292.80,554.86V556.29M293.60,551.68V554.86M294.40,550.43V551.68M295.20,549.51V550.43M296.80,548.41V549.72M297.60,548.06V548.86M298.40,546.14V548.06M299.20,546.03V546.83M300.00,545.30V546.10M302.40,547.53V548.33M304.00,547.20V548.00M305.60,547.22V548.06M306.40,546.43V547.23M307.20,545.42V546.43M308.80,547.18V549.06M309.60,543.60V547.18M310.40,535.79V543.60M311.20,526.84V535.79M316.00,531.37V532.17M320.00,533.64V534.48M320.80,531.79V533.64M322.40,530.76V531.96M323.20,529.42V530.76M324.00,528.05V529.42M324.80,526.89V528.05M325.60,525.71V526.89M326.40,525.44V526.24M328.00,526.12V526.92M328.80,524.73V526.12M329.60,522.17V524.73M330.40,520.88V522.17M332.00,518.03V521.16M332.80,514.61V518.03M333.60,511.72V514.61M335.20,512.46V513.26M336.00,510.56V512.46M336.80,510.31V511.11M340.00,513.10V513.90M341.60,511.30V513.15M342.40,510.06V511.30M343.20,509.49V510.29M344.00,508.65V509.49M344.80,507.33V508.65M345.60,505.47V507.33M346.40,504.33V505.47M349.60,504.39V506.23M352.80,505.51V506.82M354.40,506.07V506.87M355.20,504.81V506.07M358.40,504.35V505.59M359.20,503.07V504.35M362.40,508.46V509.78M363.20,507.09V508.46M364.80,506.35V507.64M365.60,504.43V506.35M366.40,503.30V504.43M367.20,502.56V503.36M368.00,502.15V502.95M372.00,505.41V508.26M372.80,503.34V505.41M373.60,502.15V503.34M375.20,503.05V503.85M377.60,507.14V508.12M378.40,504.51V507.14M379.20,500.40V504.51M380.00,498.23V500.40M380.80,496.51V498.23M381.60,493.98V496.51M382.40,491.73V493.98M383.20,490.11V491.73M384.00,488.77V490.11M384.80,484.46V488.77M385.60,481.74V484.46M386.40,479.52V481.74M387.20,478.46V479.52M388.00,474.49V478.46M388.80,470.67V474.49M389.60,468.79V470.67M396.00,476.81V478.10M396.80,476.20V477.00M397.60,475.94V476.74M401.60,480.87V481.67M404.00,483.31V484.73M404.80,480.75V483.31M405.60,479.33V480.75M412.00,487.22V488.69M412.80,485.74V487.22M415.20,486.32V487.12M416.00,484.89V486.32M416.80,481.83V484.89M417.60,476.50V481.83M418.40,473.51V476.50M420.00,473.03V474.06M420.80,472.94V473.74M425.60,492.81V496.44M426.40,489.57V492.81M427.20,488.47V489.57M428.00,484.29V488.47M428.80,482.98V484.29M429.60,480.85V482.98M430.40,477.91V480.85M431.20,474.10V477.91M432.00,472.60V474.10M432.80,471.57V472.60M448.00,493.96V494.76M448.80,477.65V493.96M452.00,483.98V484.78M465.60,495.47V496.98M466.40,492.39V495.47M467.20,490.80V492.39M468.00,489.11V490.80M468.80,487.28V489.11M470.40,487.00V487.85M478.40,507.55V508.75M479.20,504.60V507.55M480.00,502.94V504.60M480.80,498.17V502.94M481.60,494.76V498.17M482.40,491.16V494.76M483.20,486.66V491.16M484.00,483.71V486.66M484.80,483.34V484.14M485.60,482.40V483.34M487.20,482.05V482.85M488.80,482.02V482.82M489.60,481.60V482.40M490.40,480.11V481.60M491.20,477.96V480.11M492.00,475.83V477.96M492.80,475.25V476.05M494.40,473.54V475.78M495.20,471.89V473.54M496.00,470.14V471.89M496.80,468.32V470.14M497.60,466.81V468.32M498.40,466.51V467.31M499.20,465.31V466.51M500.00,464.76V465.56M500.80,462.26V464.76M504.00,468.29V469.09M504.80,468.09V468.89M507.20,468.31V469.68M508.00,466.59V468.31M508.80,464.92V466.59M509.60,462.46V464.92M510.40,461.65V462.46M511.20,461.65V462.45M512.80,461.03V461.83M513.60,460.34V461.14M516.00,459.08V462.83M516.80,452.12V459.08M517.60,445.97V452.12M518.40,441.14V445.97M519.20,437.18V441.14M520.00,432.69V437.18M520.80,427.89V432.69M521.60,424.54V427.89M522.40,421.88V424.54M523.20,417.73V421.88M526.40,423.76V427.31M527.20,418.44V423.76M528.00,418.41V419.21M534.40,463.10V466.74M535.20,458.14V463.10M536.00,451.53V458.14M536.80,445.88V451.53M537.60,442.68V445.88M538.40,439.27V442.68M539.20,435.87V439.27M540.00,431.89V435.87M541.60,435.48V436.28M544.00,433.43V436.97M544.80,432.08V433.43M545.60,430.30V432.08M546.40,424.70V430.30M547.20,418.22V424.70M548.00,416.21V418.22M549.60,418.66V419.91M550.40,416.70V418.66M551.20,413.99V416.70M552.00,411.69V413.99M552.80,409.36V411.69M553.60,407.04V409.36M555.20,406.02V407.63M556.00,402.79V406.02M556.80,399.36V402.79M558.40,402.75V403.55M559.20,395.97V402.75M560.00,388.44V395.97M560.80,388.00V388.80M561.60,387.48V388.28M564.00,388.30V391.93M564.80,385.21V388.30M565.60,381.82V385.21M566.40,379.48V381.82M568.80,377.03V383.32M569.60,373.74V377.03M570.40,372.37V373.74M571.20,372.10V372.90M572.00,369.72V372.10M572.80,365.20V369.72M573.60,361.46V365.20M574.40,360.17V361.46M575.20,357.97V360.17M576.00,356.19V357.97M578.40,356.89V358.68M579.20,354.42V356.89M580.00,353.05V354.42M582.40,354.29V355.61M583.20,350.60V354.29M584.00,349.32V350.60M584.80,344.13V349.32M585.60,336.95V344.13M586.40,328.78V336.95M587.20,323.07V328.78M589.60,320.15V326.24M590.40,320.08V320.88M598.40,354.74V355.54M599.20,351.72V354.74M600.00,350.66V351.72M600.80,346.64V350.66M604.00,353.45V355.16M604.80,350.74V353.45M607.20,360.89V362.48M608.00,346.29V360.89M608.80,342.20V346.29M609.60,339.29V342.20M610.40,336.89V339.29M611.20,332.75V336.89M612.00,327.38V332.75M612.80,323.13V327.38M613.60,319.89V323.13M614.40,315.49V319.89M615.20,307.09V315.49M616.00,301.87V307.09M620.00,313.23V314.60M624.80,330.89V333.30M625.60,329.70V330.89M627.20,329.18V330.21M628.00,325.52V329.18M628.80,322.69V325.52M629.60,321.55V322.69M632.80,324.68V326.37M633.60,323.07V324.68M634.40,321.09V323.07M635.20,318.55V321.09M636.00,317.27V318.55M636.80,314.97V317.27M637.60,310.16V314.97M638.40,305.86V310.16M639.20,304.61V305.86M640.00,302.96V304.61M644.00,306.65V307.45M649.60,314.14V318.71M650.40,312.80V314.14M652.00,311.49V314.45M652.80,308.82V311.49M653.60,305.01V308.82M654.40,297.39V305.01M655.20,289.12V297.39M656.00,283.18V289.12M656.80,278.13V283.18M657.60,269.08V278.13M658.40,265.58V269.08M660.80,268.95V272.30M661.60,261.14V268.95M662.40,253.27V261.14M663.20,249.87V253.27M664.00,248.52V249.87" stroke="#3b8cc0" stroke-width="1.1" fill="none" stroke-opacity="0.75"/>
<path d="M533.5,466.5V493.7M552,418V427.3M619.5,314V339.4M625,330V344.3M633,324V334.5M651,314V322.7M615.5,300.4V306M658.3,256V263M660.5,273V282M663,239.5V251" stroke="#8a6a78" stroke-width="0.9" fill="none" stroke-opacity="0.85"/>
<path d="M227,506.4H280.5L226,544.5" stroke="#3a3a3a" stroke-width="1" fill="none"/>
<polyline points="795,150.4 664.4,248.3 794.3,332" stroke="#4d4d4d" stroke-width="1.8" fill="none"/>
<polyline points="747.8,297.9 597.6,404.6 735,339.2" stroke="#4d4d4d" stroke-width="1.6" fill="none"/>
<line x1="597.6" y1="405.4" x2="718.5" y2="405.4" stroke="#4d4d4d" stroke-width="1.6"/>
<text x="793.9" y="163.4" fill="#5a5a5a" stroke="#5a5a5a" stroke-width="0.3" font-size="8.3">PThi</text>
<text x="793.9" y="329.8" fill="#5a5a5a" stroke="#5a5a5a" stroke-width="0.3" font-size="8.3">PTlo</text>
<text x="609.3" y="382.6" fill="#6a6a6a" stroke="#6a6a6a" stroke-width="0.3" font-size="8.2">gap</text>
<line x1="0" y1="831.4" x2="1089" y2="831.4" stroke="#e0e3eb" stroke-width="1"/>
<line x1="0" y1="851.3" x2="1089" y2="851.3" stroke="#f0f3fa" stroke-width="1"/>
<text x="3.6" y="845.2" fill="#131722" font-size="9" text-anchor="middle" font-weight="bold">2022</text>
<text x="84.1" y="845.2" fill="#131722" font-size="9" text-anchor="middle" stroke="#131722" stroke-width="0.2">Jul</text>
<text x="167.5" y="845.2" fill="#131722" font-size="9" text-anchor="middle" font-weight="bold">2023</text>
<text x="247" y="845.2" fill="#131722" font-size="9" text-anchor="middle" stroke="#131722" stroke-width="0.2">Jul</text>
<text x="330.1" y="845.2" fill="#131722" font-size="9" text-anchor="middle" font-weight="bold">2024</text>
<text x="407.7" y="845.2" fill="#131722" font-size="9" text-anchor="middle" stroke="#131722" stroke-width="0.2">Jul</text>
<text x="490.5" y="845.2" fill="#131722" font-size="9" text-anchor="middle" font-weight="bold">2025</text>
<text x="569.4" y="845.2" fill="#131722" font-size="9" text-anchor="middle" stroke="#131722" stroke-width="0.2">Jul</text>
<text x="652" y="845.2" fill="#131722" font-size="9" text-anchor="middle" font-weight="bold">2026</text>
<text x="729.7" y="845.2" fill="#131722" font-size="9" text-anchor="middle" stroke="#131722" stroke-width="0.2">Jul</text>
<text x="813.9" y="845.2" fill="#131722" font-size="9" text-anchor="middle" font-weight="bold">2027</text>
<text x="897.6" y="845.2" fill="#131722" font-size="9" text-anchor="middle" stroke="#131722" stroke-width="0.2">Jul</text>
<text x="983.6" y="845.2" fill="#131722" font-size="9" text-anchor="middle" font-weight="bold">2028</text>
<circle cx="420.6" cy="821.4" r="6.4" fill="#fff" stroke="#6a86d8" stroke-width="1.1"/>
<path d="M356.09999999999997,818.1L362.4,814.4L368.7,818.1V827.3000000000001Q368.7,828.5 367.5,828.5H357.29999999999995Q356.09999999999997,828.5 356.09999999999997,827.3000000000001Z" fill="#fff" stroke="#3a9c8c" stroke-width="1.1" stroke-linejoin="round"/><text x="360.29999999999995" y="825.0" fill="#23806f" font-size="9.3" font-weight="bold" textLength="4.5" lengthAdjust="spacingAndGlyphs">E</text>
<path d="M374.5,818.1L380.8,814.4L387.1,818.1V827.3000000000001Q387.1,828.5 385.90000000000003,828.5H375.7Q374.5,828.5 374.5,827.3000000000001Z" fill="#fff" stroke="#3a9c8c" stroke-width="1.1" stroke-linejoin="round"/><text x="378.7" y="825.0" fill="#23806f" font-size="9.3" font-weight="bold" textLength="4.5" lengthAdjust="spacingAndGlyphs">E</text>
<path d="M416.3,818.1L422.6,814.4L428.90000000000003,818.1V827.3000000000001Q428.90000000000003,828.5 427.70000000000005,828.5H417.5Q416.3,828.5 416.3,827.3000000000001Z" fill="#fff" stroke="#3a9c8c" stroke-width="1.1" stroke-linejoin="round"/><text x="420.5" y="825.0" fill="#23806f" font-size="9.3" font-weight="bold" textLength="4.5" lengthAdjust="spacingAndGlyphs">E</text>
<path d="M460.7,818.1L467,814.4L473.3,818.1V827.3000000000001Q473.3,828.5 472.1,828.5H461.9Q460.7,828.5 460.7,827.3000000000001Z" fill="#fff" stroke="#3a9c8c" stroke-width="1.1" stroke-linejoin="round"/><text x="464.9" y="825.0" fill="#23806f" font-size="9.3" font-weight="bold" textLength="4.5" lengthAdjust="spacingAndGlyphs">E</text>
<path d="M510.3,816.0Q510.3,815.0 511.5,815.0H521.7Q522.9,815.0 522.9,816.0V824.9L516.6,828.6999999999999L510.3,824.9Z" fill="#fff" stroke="#d9505c" stroke-width="1.1" stroke-linejoin="round"/><text x="514.5" y="825.0" fill="#c04050" font-size="9.3" font-weight="bold" textLength="4.5" lengthAdjust="spacingAndGlyphs">E</text>
<path d="M538.8000000000001,818.1L545.1,814.4L551.4,818.1V827.3000000000001Q551.4,828.5 550.2,828.5H540.0Q538.8000000000001,828.5 538.8000000000001,827.3000000000001Z" fill="#fff" stroke="#3a9c8c" stroke-width="1.1" stroke-linejoin="round"/><text x="543.0" y="825.0" fill="#23806f" font-size="9.3" font-weight="bold" textLength="4.5" lengthAdjust="spacingAndGlyphs">E</text>
<circle cx="558.3" cy="821.2" r="6.6" fill="#fff" stroke="#5068c0" stroke-width="1.1"/><text x="557.6" y="824.7" fill="#4a66c0" font-size="8.6" font-weight="bold" text-anchor="middle">D</text>
<path d="M577.6,818.1L583.9,814.4L590.1999999999999,818.1V827.3000000000001Q590.1999999999999,828.5 589.0,828.5H578.8Q577.6,828.5 577.6,827.3000000000001Z" fill="#fff" stroke="#3a9c8c" stroke-width="1.1" stroke-linejoin="round"/><text x="581.8" y="825.0" fill="#23806f" font-size="9.3" font-weight="bold" textLength="4.5" lengthAdjust="spacingAndGlyphs">E</text>
<circle cx="632.4" cy="821.2" r="5" fill="#fff" stroke="#5a70c8" stroke-width="1.1"/>
<path d="M621.9000000000001,816.0Q621.9000000000001,815.0 623.1,815.0H633.3000000000001Q634.5,815.0 634.5,816.0V824.9L628.2,828.6999999999999L621.9000000000001,824.9Z" fill="#fff" stroke="#d9505c" stroke-width="1.1" stroke-linejoin="round"/><text x="626.1" y="825.0" fill="#c04050" font-size="9.3" font-weight="bold" textLength="4.5" lengthAdjust="spacingAndGlyphs">E</text>
<rect x="677.7" y="814.4" width="14" height="13.2" rx="1.5" fill="#fff" stroke="#bf68cc" stroke-width="1.1"/><text x="684.8" y="824.7" fill="#b058c0" font-size="8.6" font-weight="bold" text-anchor="middle">E</text><path d="M675,819.6H679.5M675,822.6H679.5" stroke="#bf68cc" stroke-width="1"/>
</svg>
</body></html>
